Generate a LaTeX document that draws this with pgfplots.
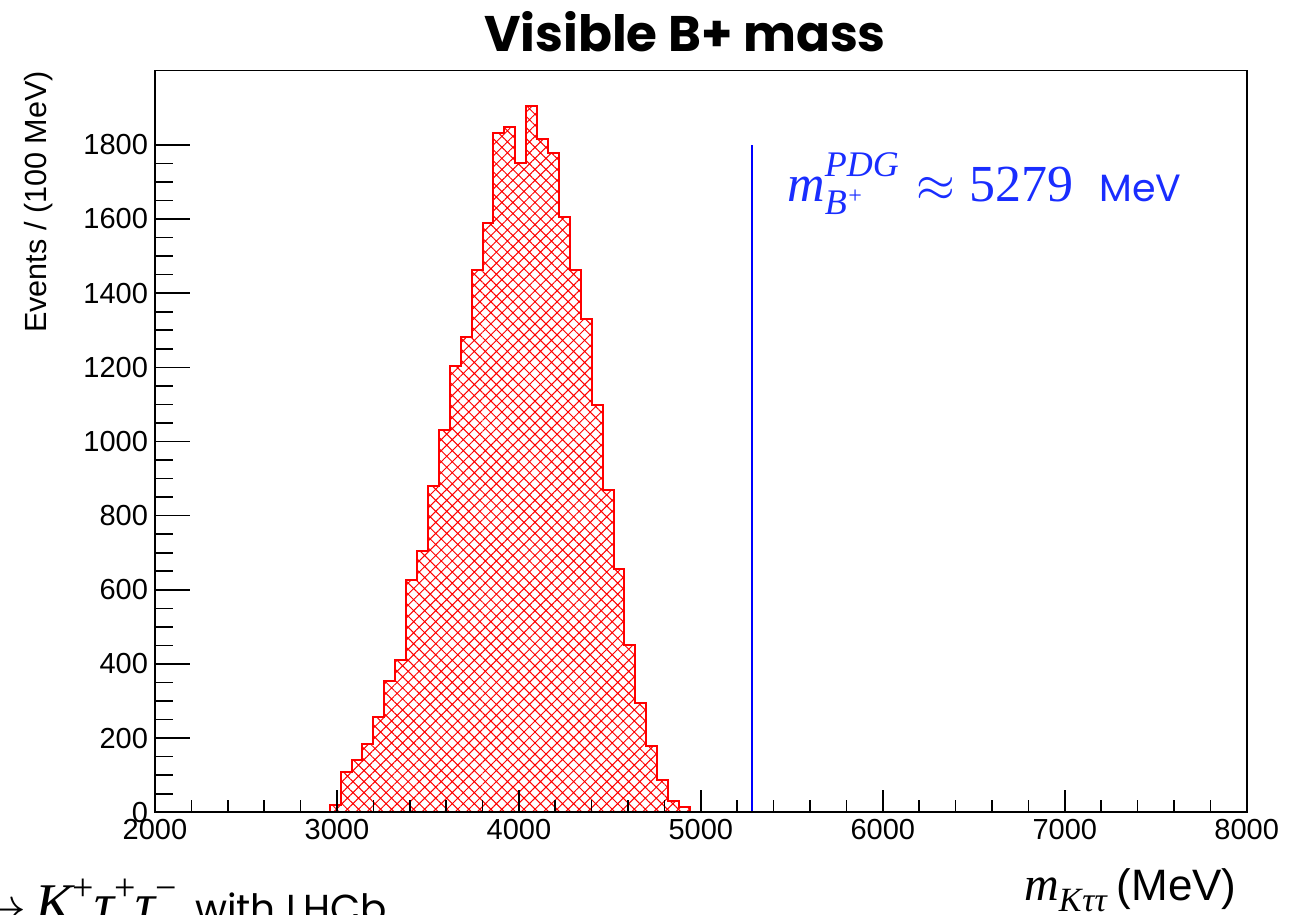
\documentclass[border=0pt]{standalone}
\usepackage{fontspec}
\setmainfont{Liberation Sans}
\newfontfamily\comic{Poppins}
\newfontfamily\tnr{Liberation Serif}
\usepackage{pgfplots}
\pgfplotsset{compat=1.18}
\usetikzlibrary{patterns.meta}
\definecolor{annblue}{RGB}{25,45,255}
\definecolor{histred}{RGB}{255,0,0}

\begin{document}
\begin{tikzpicture}
\begin{axis}[
  at={(0,0)}, anchor=south west,
  scale only axis, width=545.85pt, height=370.8pt,
  xmin=2000, xmax=8000, ymin=0, ymax=2000,
  xtick={2000,3000,...,8000}, minor x tick num=4,
  ytick={0,200,...,1800}, minor y tick num=3,
  tick align=inside, tick pos=left,
  axis on top,
  axis line style={line width=0.8pt},
  xtick style={/pgfplots/major tick length=11pt, /pgfplots/minor tick length=6pt, line width=0.8pt, black},
  ytick style={/pgfplots/major tick length=17.5pt, /pgfplots/minor tick length=9pt, line width=0.8pt, black},
  ticklabel style={font=\fontsize{14.5}{17}\selectfont},
  /pgf/number format/assume math mode=true,
  /pgf/number format/1000 sep={},
]
\addplot[const plot, draw=histred, line width=1pt,
  pattern={Hatch[angle=45,distance=3.9pt,line width=0.5pt]}, pattern color=histred]
coordinates {
(2960,20) (3020,110) (3080,140) (3140,183) (3200,257) (3260,354) (3320,410)
(3380,627) (3440,706) (3500,881) (3560,1031) (3620,1204) (3680,1283)
(3740,1463) (3800,1589) (3860,1832) (3920,1848) (3980,1750) (4040,1906)
(4100,1817) (4160,1779) (4220,1606) (4280,1463) (4340,1331) (4400,1099)
(4460,870) (4520,657) (4580,452) (4640,295) (4700,179) (4760,88)
(4820,30) (4880,14) (4940,14)
} \closedcycle;
\addplot[color=blue, line width=1pt] coordinates {(5279,0) (5279,1800)};
\end{axis}
% title
\node[anchor=base, font=\comic\bfseries\fontsize{25}{30}\selectfont] at (265pt,380.15pt) {Visible B+ mass};
% annotation
\node[anchor=base west, text=annblue, inner sep=0] at (316pt,305.3pt)
  {\fontsize{26}{30}\selectfont
   {\tnr\itshape m}\rlap{\raisebox{-6.5pt}{\tnr\itshape\fontsize{18}{20}\selectfont B\raisebox{5.5pt}{\fontsize{12}{13}\selectfont +}}}%
   \raisebox{12.5pt}{\tnr\itshape\fontsize{18}{20}\selectfont PDG}\hspace{9pt}$\approx$\hspace{7pt}{\tnr 5279}\hspace{13pt}{\comic\fontsize{19}{24}\selectfont MeV}};
% x label
\node[anchor=base east, inner sep=0] at (541pt,-43.85pt)
  {{\tnr\itshape\fontsize{24}{28}\selectfont m}\raisebox{-5.5pt}{\tnr\itshape\fontsize{17}{18}\selectfont K\kern0.5pt ττ}\hspace{5pt}{\fontsize{22}{26}\selectfont(MeV)}};
% y label
\node[rotate=90, anchor=base east, inner sep=0, font=\fontsize{15.3}{18}\selectfont] at (-54.2pt,370.8pt) {Events / (100 MeV)};
% cut-off slide text
\node[anchor=base east, inner sep=0] at (116pt,-54.85pt)
  {{\fontsize{28}{32}\selectfont\tnr $B$\,$\to$\,\itshape K\raisebox{11pt}{\fontsize{19}{20}\selectfont\upshape +}τ\raisebox{11pt}{\fontsize{19}{20}\selectfont\upshape +}τ\raisebox{11pt}{\fontsize{19}{20}\selectfont\upshape −}}\hspace{9pt}{\comic\fontsize{19.5}{22}\selectfont with LHCb}};
\pgfresetboundingbox
\useasboundingbox (-77.5pt,-50.85pt) rectangle (574.5pt,406.15pt);
\end{tikzpicture}
\end{document}
